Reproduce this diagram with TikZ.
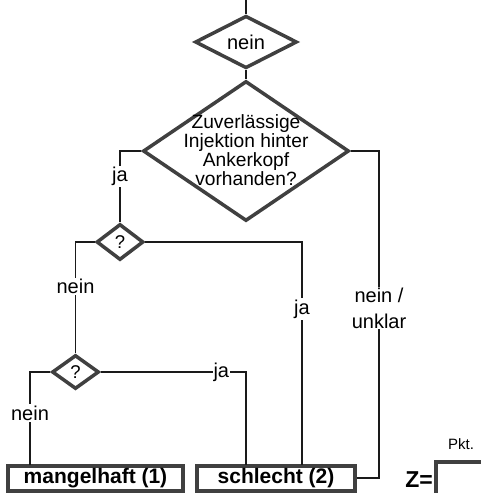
\documentclass[tikz,border=0pt]{standalone}
\usepackage{fontspec}
\setmainfont{Liberation Sans}
\usetikzlibrary{shapes.geometric}
\definecolor{frame}{HTML}{404040}
\definecolor{wire}{HTML}{1A1A1A}
\begin{document}
\begin{tikzpicture}[x=1pt,y=-1pt,
  decision/.style={diamond, draw=frame, line width=3.5pt, fill=white,
    inner sep=0pt, minimum width=#1, font=\fontsize{20}{22}\selectfont},
  verdict/.style={rectangle, draw=frame, line width=4pt, fill=white,
    inner sep=0pt, minimum height=25pt, font=\fontsize{21}{23}\selectfont\bfseries},
  conn/.style={draw=wire, line width=1.6pt},
  lbl/.style={fill=white, inner sep=1.5pt, font=\fontsize{20}{21}\selectfont}]
\useasboundingbox (0,0) rectangle (481,493);

% decisions
\coordinate (entry) at (246,0);
\node[decision=102pt, minimum height=40pt] (q0) at (246,42) {nein};
\node[decision=206pt, minimum height=140pt] (q1) at (246,151) {};
\node[align=center, font=\fontsize{19.2}{19}\selectfont] (q1text) at (246,150)
  {Zuverlässige\\Injektion hinter\\Ankerkopf\\vorhanden?};
\node[decision=47pt, minimum height=36pt, font=\fontsize{18.5}{19}\selectfont] (q2) at (120,242) {?};
\node[decision=47pt, minimum height=34pt, font=\fontsize{18.5}{19}\selectfont] (q3) at (75.5,372) {?};

% results
\node[verdict, minimum width=175pt] (bad1) at (95.5,478) {mangelhaft (1)};
\node[verdict, minimum width=158pt] (bad2) at (276,478) {schlecht (2)};

% connector end points on the result boxes
\coordinate (in1) at (30,465);
\coordinate (in2a) at (246,465);
\coordinate (in2b) at (302,465);
\coordinate (side) at (379,478);
\coordinate (jaknee) at (246,372);

% connectors
\draw[conn] (entry) -- (q0.north);
\draw[conn] (q0.south) -- (q1.north);
\draw[conn] (q1.west) -| node[lbl, pos=0.68] {ja} (q2.north);
\draw[conn] (q1.east) -| (side) -- (bad2.east);
\node[lbl, align=center, inner sep=1pt, font=\fontsize{20}{26}\selectfont] (unklar) at (379,308) {nein /\\unklar};
\draw[conn] (q2.west) -| node[lbl, pos=0.7] {nein} (q3.north);
\draw[conn] (q2.east) -| node[lbl, pos=0.65] {ja} (in2b);
\draw[conn] (q3.west) -| node[lbl, pos=0.72] {nein} (in1);
\draw[conn] (q3.east) -- node[lbl, pos=0.83, inner sep=1pt] {ja} (jaknee) -- (in2a);

% score field
\node[rectangle, draw=frame, line width=4pt, anchor=north west,
  minimum width=70pt, minimum height=45pt] (score) at (434,460) {};
\node[anchor=east, font=\fontsize{23}{25}\selectfont\bfseries, inner sep=1pt] (zlabel) at (score.west |- 0,480) {Z=};
\node[font=\fontsize{15}{16}\selectfont] (pkt) at (461,444) {Pkt.};
\end{tikzpicture}
\end{document}
